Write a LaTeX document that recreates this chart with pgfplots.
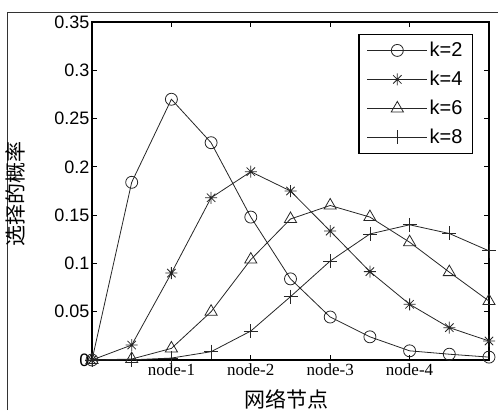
\documentclass[border=0pt]{standalone}
\usepackage{fontspec}
\setmainfont{Liberation Sans}
\newfontfamily\seriffont{Liberation Serif}
\newfontfamily\cjk{Noto Sans CJK SC}
\usepackage{pgfplots}
\pgfplotsset{compat=1.18}

% MATLAB style '*' marker: plus and cross together
\pgfdeclareplotmark{mstar}{%
  \pgfpathmoveto{\pgfqpoint{0pt}{\pgfplotmarksize}}\pgfpathlineto{\pgfqpoint{0pt}{-\pgfplotmarksize}}%
  \pgfpathmoveto{\pgfqpoint{\pgfplotmarksize}{0pt}}\pgfpathlineto{\pgfqpoint{-\pgfplotmarksize}{0pt}}%
  \pgfpathmoveto{\pgfqpoint{.7\pgfplotmarksize}{.7\pgfplotmarksize}}\pgfpathlineto{\pgfqpoint{-.7\pgfplotmarksize}{-.7\pgfplotmarksize}}%
  \pgfpathmoveto{\pgfqpoint{.7\pgfplotmarksize}{-.7\pgfplotmarksize}}\pgfpathlineto{\pgfqpoint{-.7\pgfplotmarksize}{.7\pgfplotmarksize}}%
  \pgfusepathqstroke}

\begin{document}
\begin{tikzpicture}[x=1pt,y=1pt]
\useasboundingbox (-92,-50) rectangle (406,360);
\draw[line width=1pt, black!80] (-84,-50) -- (-84,347) -- (406,347);
\begin{axis}[
  at={(0,0)}, anchor=south west,
  scale only axis,
  width=397pt, height=338pt,
  xmin=0, xmax=10,
  ymin=0, ymax=0.35,
  xtick={2,4,6,8},
  xticklabels={node-1,node-2,node-3,node-4},
  ytick={0,0.05,0.1,0.15,0.2,0.25,0.3,0.35},
  yticklabels={0,0.05,0.1,0.15,0.2,0.25,0.3,0.35},
  xticklabel style={font=\seriffont\fontsize{17}{19}\selectfont},
  yticklabel style={font=\fontsize{18}{20}\selectfont, xshift=1pt},
  tick align=inside,
  major tick length=5pt,
  tick style={black, line width=0.8pt},
  axis line style={line width=1.2pt},
  xlabel={\cjk 网络节点},
  ylabel={\cjk 选择的概率},
  xlabel style={font=\fontsize{21}{23}\selectfont, at={(axis description cs:0.49,-0.115)}, anchor=center},
  ylabel style={font=\fontsize{21}{23}\selectfont, at={(axis description cs:-0.194,0.49)}, anchor=center, rotate=0},
  legend style={at={(axis description cs:0.96,0.965)}, anchor=north east,
    draw=black, line width=1.2pt, font=\fontsize{20}{22}\selectfont,
    row sep=9pt, inner xsep=8pt, inner ysep=6pt},
  legend cell align=left,
  legend image code/.code={\draw[mark repeat=2,mark phase=2,#1] plot coordinates {(0pt,0pt)(30pt,0pt)(60pt,0pt)};},
]
\addplot[line width=0.8pt, black!85, mark=o, mark size=6pt, mark options={solid}] coordinates {
  (0,0) (1,0.184) (2,0.270) (3,0.225) (4,0.148) (5,0.084)
  (6,0.0445) (7,0.024) (8,0.0095) (9,0.006) (10,0.003)};
\addlegendentry{k=2}
\addplot[line width=0.8pt, black!85, mark=mstar, mark size=6pt, mark options={solid}] coordinates {
  (0,0) (1,0.0155) (2,0.090) (3,0.168) (4,0.195) (5,0.175)
  (6,0.1335) (7,0.0915) (8,0.0577) (9,0.0335) (10,0.0197)};
\addlegendentry{k=4}
\addplot[line width=0.8pt, black!85, mark=triangle, mark size=7pt, mark options={solid}] coordinates {
  (0,0) (1,0.001) (2,0.012) (3,0.050) (4,0.104) (5,0.146)
  (6,0.160) (7,0.148) (8,0.122) (9,0.091) (10,0.061)};
\addlegendentry{k=6}
\addplot[line width=0.8pt, black!85, mark=+, mark size=7pt, mark options={solid}] coordinates {
  (0,0) (1,0.0002) (2,0.002) (3,0.0086) (4,0.030) (5,0.0656)
  (6,0.1025) (7,0.1305) (8,0.140) (9,0.131) (10,0.113)};
\addlegendentry{k=8}
\end{axis}
\end{tikzpicture}
\end{document}
